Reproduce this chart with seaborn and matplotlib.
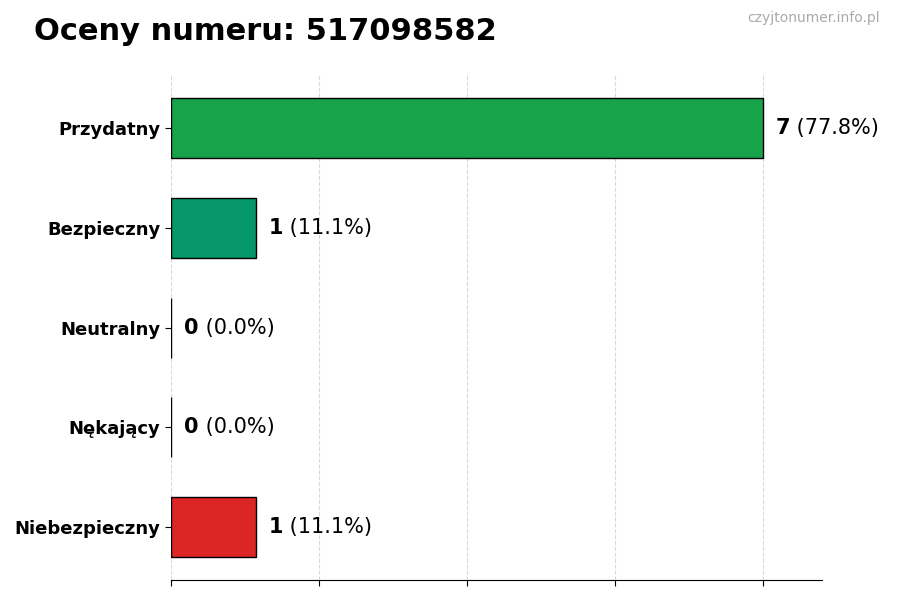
import numpy as np
import pandas as pd
import matplotlib
matplotlib.use("Agg")
import matplotlib.pyplot as plt
import seaborn as sns

categories = ["Przydatny", "Bezpieczny", "Neutralny", "Nękający", "Niebezpieczny"]
counts = [7, 1, 0, 0, 1]
colors = ["#16a34a", "#059669", "#6b7280", "#f59e0b", "#dc2626"]
number = "517098582"

sns.set_style("white")
plt.rcParams['font.family'] = ['DejaVu Sans']
plt.rcParams['text.color'] = 'black'
plt.rcParams['ytick.color'] = 'black'
plt.rcParams['xtick.color'] = 'black'

df = pd.DataFrame({"cat": categories, "n": counts})
total = sum(counts)

fig = plt.figure(figsize=(9, 6), dpi=100)
ax = fig.add_axes([0.19, 0.033, 0.723, 0.842])

sns.barplot(data=df, x="n", y="cat", hue="cat", palette=colors, orient="h",
            width=0.6, edgecolor="black", linewidth=1, saturation=1,
            legend=False, ax=ax)

xmax = max(counts) * 1.1
ax.set_xlim(0, xmax)
ax.set_ylim(len(categories) - 1 + 0.53, -0.53)
ax.set_xticks(np.linspace(0, max(counts), 5))
ax.set_xticklabels([])
ax.grid(axis="x", linestyle="--", color="#d9d9d9", linewidth=0.8)
ax.set_axisbelow(True)
ax.set_xlabel("")
ax.set_ylabel("")
for s in ["top", "right", "left"]:
    ax.spines[s].set_visible(False)
ax.spines["bottom"].set_color("black")
ax.tick_params(axis="both", which="both", length=4, color="black",
               bottom=True, left=True)
for lbl in ax.get_yticklabels():
    lbl.set_fontweight("bold")
    lbl.set_fontsize(13)
    lbl.set_color("black")

off = xmax * 0.02
for i, v in enumerate(counts):
    pct = 100 * v / total
    t = ax.text(v + off, i, f"{v}", fontsize=15, fontweight="bold",
                va="center", ha="left", color="black")
    ax.annotate(f" ({pct:.1f}%)", xycoords=t, xy=(1, 0.5), va="center",
                ha="left", fontsize=15, color="black")

fig.text(0.038, 0.948, f"Oceny numeru: {number}", fontsize=22,
         fontweight="bold", va="center", ha="left", color="black")
fig.text(0.978, 0.97, "czyjtonumer.info.pl", fontsize=10, color="#aaaaaa",
         va="center", ha="right")

fig.savefig("out.png", dpi=100)
